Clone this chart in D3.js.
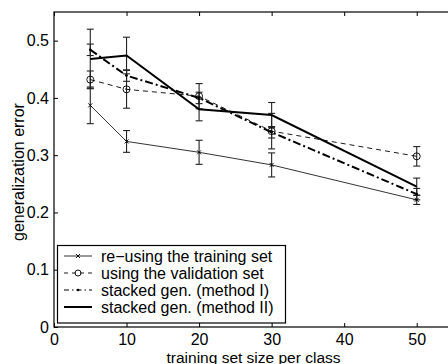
<!DOCTYPE html>
<html>
<head>
<meta charset="utf-8">
<script src="https://cdn.jsdelivr.net/npm/d3@7"></script>
<style>
  body { margin: 0; background: #fff; }
  svg { font-family: "Liberation Sans", Arial, sans-serif; }
</style>
</head>
<body>
<div id="chart"></div>
<script>
"use strict";

// training set size per class
const sizes = [5, 10, 20, 30, 50];

const seriesNames = ["re\u2212using the training set", "using the validation set",
  "stacked gen. (method I)", "stacked gen. (method II)"];

// mean generalization error per series
const reuseErr = [0.387, 0.324, 0.305, 0.283, 0.222];
const validErr = [0.432, 0.415, 0.403, 0.342, 0.298];
const stackIErr = [0.484, 0.439, 0.400, 0.340, 0.232];
const stackIIErr = [0.468, 0.474, 0.380, 0.370, 0.245];

// half-width of error bars
const reuseDev = [0.032, 0.019, 0.021, 0.021, 0.008];
const validDev = [0.015, 0.033, 0.022, 0.031, 0.017];
const stackIDev = [0.010, 0.010, 0.010, 0.010, 0.010];
const stackIIDev = [0.052, 0.032, 0.020, 0.022, 0.015];

const xTicks = [0, 10, 20, 30, 40, 50];
const yTicks = [0, 0.1, 0.2, 0.3, 0.4, 0.5];

const W = 448, H = 364;
const mLeft = 54, mTop = 12, mRight = 453, mBottom = 327;

const x = d3.scaleLinear().domain([0, 55]).range([mLeft, mRight]);
const y = d3.scaleLinear().domain([0, 0.55]).range([mBottom, mTop]);

const svg = d3.select("#chart").append("svg")
  .attr("width", W).attr("height", H);

const series = [
  {name: seriesNames[0], m: reuseErr, d: reuseDev, w: 0.8, dash: null, legDash: null, mark: "x"},
  {name: seriesNames[1], m: validErr, d: validDev, w: 0.9, dash: "5,4", legDash: "4,4", mark: "o"},
  {name: seriesNames[2], m: stackIErr, d: stackIDev, w: 2, dash: "8,3,2,3", legDash: "5,3,1.5,3", mark: "."},
  {name: seriesNames[3], m: stackIIErr, d: stackIIDev, w: 2, dash: null, legDash: null, mark: null}
];

// axes box
svg.append("rect")
  .attr("x", mLeft).attr("y", mTop)
  .attr("width", mRight - mLeft).attr("height", mBottom - mTop)
  .attr("fill", "none").attr("stroke", "#000").attr("stroke-width", 1.2);

// ticks (inward, matlab style)
const bx = d3.axisBottom(x).tickValues(xTicks).tickSize(-4).tickPadding(7).tickFormat(d3.format("d"));
const tx = d3.axisTop(x).tickValues(xTicks).tickSize(-4).tickFormat("");
const ly = d3.axisLeft(y).tickValues(yTicks).tickSize(-4).tickPadding(5)
  .tickFormat(d => d === 0 ? "0" : d3.format(".1f")(d));

const gb = svg.append("g").attr("transform", `translate(0,${mBottom})`).call(bx);
const gt = svg.append("g").attr("transform", `translate(0,${mTop})`).call(tx);
const gl = svg.append("g").attr("transform", `translate(${mLeft},0)`).call(ly);
[gb, gt, gl].forEach(g => {
  g.select(".domain").remove();
  g.selectAll("line").attr("stroke", "#000");
  g.selectAll("text").attr("fill", "#000").style("font-size", "16px")
    .style("font-family", "Liberation Sans, Arial, sans-serif");
});

// axis labels
svg.append("text")
  .attr("x", (mLeft + mRight) / 2).attr("y", 362.5)
  .attr("text-anchor", "middle").style("font-size", "15.5px")
  .text("training set size per class");
svg.append("text")
  .attr("transform", `translate(24,172) rotate(-90)`)
  .attr("text-anchor", "middle").style("font-size", "16px")
  .text("generalization error");

const plot = svg.append("g");

// error bars
series.forEach(s => {
  const g = plot.append("g").attr("stroke", "#222").attr("stroke-width", 1.1);
  sizes.forEach((sz, i) => {
    const cx = x(sz), y1 = y(s.m[i] + s.d[i]), y2 = y(s.m[i] - s.d[i]);
    g.append("line").attr("x1", cx).attr("x2", cx).attr("y1", y1).attr("y2", y2);
    g.append("line").attr("x1", cx - 3.5).attr("x2", cx + 3.5).attr("y1", y1).attr("y2", y1);
    g.append("line").attr("x1", cx - 3.5).attr("x2", cx + 3.5).attr("y1", y2).attr("y2", y2);
  });
});

const line = d3.line().x((d, i) => x(sizes[i])).y(d => y(d));

function drawMarker(g, mark, px, py, r) {
  if (mark === "x") {
    g.append("path").attr("d", `M${px-2},${py-2}L${px+2},${py+2}M${px-2},${py+2}L${px+2},${py-2}`)
      .attr("stroke", "#000").attr("stroke-width", 0.9);
  } else if (mark === "o") {
    g.append("circle").attr("cx", px).attr("cy", py).attr("r", r)
      .attr("fill", "none").attr("stroke", "#000").attr("stroke-width", 0.9);
  } else if (mark === ".") {
    g.append("circle").attr("cx", px).attr("cy", py).attr("r", 1.3).attr("fill", "#000");
  }
}

series.forEach(s => {
  plot.append("path").datum(s.m)
    .attr("d", line)
    .attr("fill", "none").attr("stroke", "#000")
    .attr("stroke-width", s.w)
    .attr("stroke-dasharray", s.dash);
  const mg = plot.append("g");
  s.m.forEach((v, i) => drawMarker(mg, s.mark, x(sizes[i]), y(v), 3.5));
});

// legend
const lg = svg.append("g");
lg.append("rect").attr("x", 57.5).attr("y", 245.5).attr("width", 228).attr("height", 77.5)
  .attr("fill", "#fff").attr("stroke", "#000").attr("stroke-width", 1.2);
series.forEach((s, i) => {
  const ly0 = 256 + i * 17;
  lg.append("line").attr("x1", 64).attr("x2", 92).attr("y1", ly0).attr("y2", ly0)
    .attr("stroke", "#000").attr("stroke-width", s.mark === "." ? 1 : s.w)
    .attr("stroke-dasharray", s.legDash);
  drawMarker(lg, s.mark, 78, ly0, 3);
  lg.append("text").attr("x", 101).attr("y", ly0 + 5.5)
    .style("font-size", "16px").text(s.name);
});
</script>
</body>
</html>
